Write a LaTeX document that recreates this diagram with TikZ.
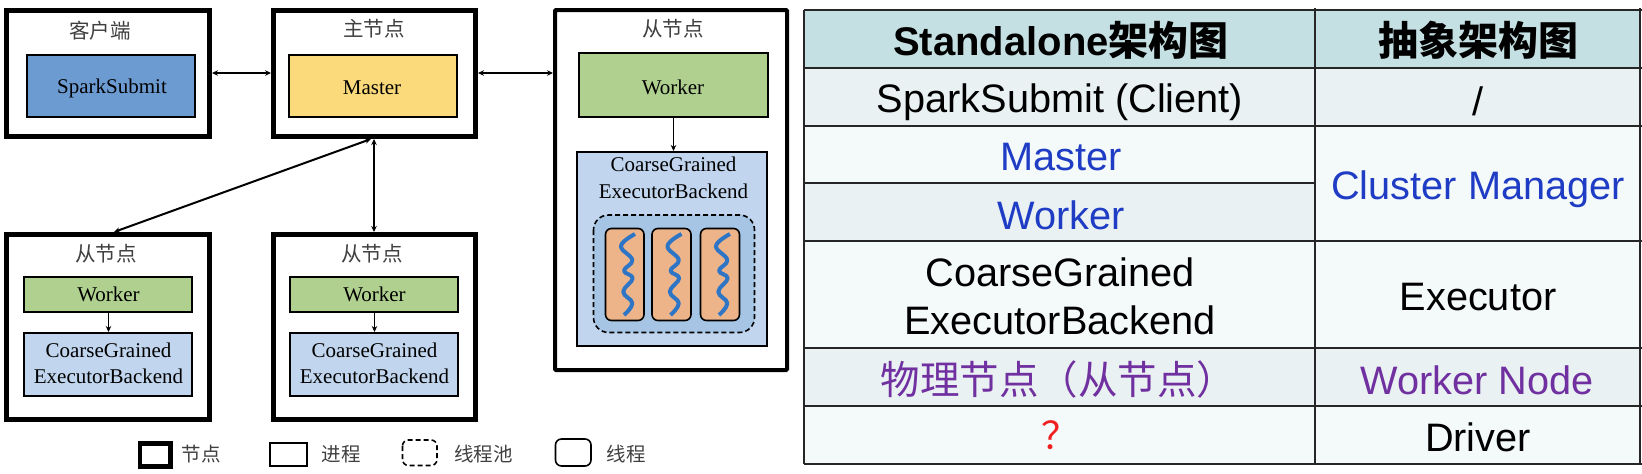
\documentclass[tikz,border=0pt]{standalone}
\usepackage{fontspec}
\setmainfont{Liberation Serif}
\newfontfamily\tabfont{Liberation Sans}
\newfontfamily\cjk{Noto Sans CJK SC}
\usetikzlibrary{arrows.meta}
\definecolor{headc}{HTML}{C5E0E3}
\definecolor{rowa}{HTML}{E9F1F3}
\definecolor{rowb}{HTML}{F4F9FA}
\definecolor{bluet}{HTML}{1F3CC4}
\definecolor{purt}{HTML}{7030A0}
\definecolor{redt}{HTML}{F02020}
\definecolor{sparkc}{HTML}{6C9BD2}
\definecolor{masterc}{HTML}{FADA7A}
\definecolor{workerc}{HTML}{B0D090}
\definecolor{cgc}{HTML}{C1D6EE}
\definecolor{poolc}{HTML}{A6C5E4}
\definecolor{threadc}{HTML}{EDB48A}
\definecolor{wavec}{HTML}{2F75C5}
\tikzset{
  x=1pt,y=-1pt,
  nodebox/.style={draw=black,line width=4.8pt,fill=white},
  procbox/.style={draw=black,line width=2.4pt},
  poolbox/.style={draw=black,line width=1.6pt,dash pattern=on 5pt off 3pt,rounded corners=15pt},
  threadbox/.style={draw=black,line width=1.6pt,rounded corners=6pt,fill=threadc},
  wave/.style={draw=wavec,line width=4pt,line join=round},
  lbl/.style={font=\fontsize{21}{21}\selectfont,inner sep=0pt,anchor=center},
  zh/.style={font=\cjk\fontsize{19.5}{20}\selectfont,text=black!75,inner sep=0pt,anchor=center},
  zht/.style={font=\cjk\fontsize{20.5}{21}\selectfont,text=black!75,inner sep=0pt,anchor=center},
  link/.style={draw=black,line width=1.3pt,{Stealth[length=6pt,width=5.5pt]}-{Stealth[length=6pt,width=5.5pt]}},
  linkb/.style={draw=black,line width=2pt,{Stealth[length=6pt,width=5.5pt]}-{Stealth[length=6pt,width=5.5pt]}},
  single/.style={draw=black,line width=1.8pt,-{Stealth[length=6pt,width=5.5pt]}},
  cell/.style={draw=black!85,line width=1.2pt},
  tt/.style={font=\tabfont\fontsize{39.7}{40}\selectfont,inner sep=0pt,anchor=center},
  th/.style={font=\tabfont\bfseries\fontsize{40}{40}\selectfont,inner sep=0pt,anchor=center},
}
\begin{document}
\begin{tikzpicture}
\useasboundingbox (0,0) rectangle (1642,474);
% outer boxes
\draw[nodebox] (6.4,10.4) rectangle (209.6,136.6);
\draw[nodebox] (273.4,10.4) rectangle (475.6,136.6);
\draw[nodebox,line width=4pt,rounded corners=1pt] (555,10) rectangle (787,370);
\draw[nodebox] (6.4,234.4) rectangle (209.6,419.6);
\draw[nodebox] (273.4,234.4) rectangle (475.6,419.6);
% named ends on the box edges
\coordinate (cR) at (212,73);
\coordinate (mL) at (271,73);
\coordinate (mR) at (478,73);
\coordinate (sL) at (553,73);
\coordinate (mB) at (374,139);
\coordinate (mB2) at (371,139);
\coordinate (aT) at (114,232);
\coordinate (bT) at (374,232);
\draw[link] (cR) -- (mL);
\draw[link] (mR) -- (sL);
\draw[linkb] (mB) -- (bT);
\draw[linkb] (mB2) -- (aT);
% titles
\node[zht] at (100,31) {客户端};
\node[zht] at (374,29) {主节点};
\node[zht] at (673,29) {从节点};
\node[zht] at (106,254) {从节点};
\node[zht] at (372,254) {从节点};
% top inner
\draw[procbox,fill=sparkc] (27,55) rectangle (195,117);
\node[lbl] at (112,88) {SparkSubmit};
\draw[procbox,fill=masterc] (289,55) rectangle (457,117);
\node[lbl] at (372,88) {Master};
% right slave
\draw[procbox,fill=workerc] (579,53) rectangle (768,117);
\node[lbl] at (673,87) {Worker};
\draw[procbox,fill=cgc] (577,152) rectangle (767,346);
\coordinate (w0b) at (673.5,118); \coordinate (c0t) at (673.5,151);
\draw[single] (w0b) -- (c0t);
\node[lbl] at (673.5,164) {CoarseGrained};
\node[lbl] at (673.5,191) {ExecutorBackend};
\draw[poolbox,fill=poolc] (593.5,215) rectangle (754.5,332.5);
\draw[threadbox] (605.5,228.5) rectangle (644,320.5);
\draw[threadbox] (652,228.5) rectangle (691,320.5);
\draw[threadbox] (700.5,228.5) rectangle (739.5,320.5);
\foreach \dx in {0,46.5,95}{
  \draw[wave,xshift=\dx pt] plot[smooth,tension=0.7] coordinates {(635,234) (621,246) (632.3,260) (624,270.7) (632.7,278.3) (623.3,291.7) (632.3,303.3) (624,315)};
}
% lower slaves
\foreach \ox/\nm in {0/a,266/b}{
  \begin{scope}[xshift=\ox pt]
  \draw[procbox,fill=workerc] (24,277) rectangle (192,312);
  \node[lbl] at (108.5,294) {Worker};
  \draw[procbox,fill=cgc] (24,333) rectangle (192,396);
  \coordinate (wb\nm) at (108.5,313);
  \coordinate (ct\nm) at (108.5,332);
  \draw[single] (wb\nm) -- (ct\nm);
  \node[lbl] at (108.5,350) {CoarseGrained};
  \node[lbl] at (108.5,376) {ExecutorBackend};
  \end{scope}
}
% legend
\draw[nodebox] (140,443.5) rectangle (170.5,466.5);
\node[zh] at (201,454) {节点};
\draw[procbox] (270,443) rectangle (307,466);
\node[zh] at (341,454) {进程};
\draw[poolbox,rounded corners=6pt] (402.5,440) rectangle (437,465.5);
\node[zh] at (483.5,454) {线程池};
\draw[draw=black,line width=1.6pt,rounded corners=6pt] (555.5,439) rectangle (591,466);
\node[zh] at (626,454) {线程};
% table fills
\fill[headc] (804,10) rectangle (1640,68);
\fill[rowa] (804,68) rectangle (1640,126);
\fill[rowb] (804,126) rectangle (1640,183);
\fill[rowa] (804,183) rectangle (1315,241);
\fill[rowb] (1315,126) rectangle (1640,241);
\fill[rowb] (804,241) rectangle (1640,348);
\fill[rowa] (804,348) rectangle (1640,406);
\fill[rowb] (804,406) rectangle (1640,464);
% table lines
\foreach \yy in {10,68,126,241,348,406,464}{\draw[cell] (804,\yy) -- (1642,\yy);}
\draw[cell] (804,183) -- (1315,183);
\draw[cell] (804,10) -- (804,464);
\draw[cell] (1315,8) -- (1315,464);
\draw[cell] (1640,8) -- (1640,464);
% table text
\node[th] at (1061,40) {Standalone\cjk 架构图};
\node[th] at (1478,40) {\cjk 抽象架构图};
\node[tt] at (1060,102) {SparkSubmit (Client)};
\node[tt] at (1478,101) {/};
\node[tt,text=bluet] at (1061,157) {Master};
\node[tt,text=bluet] at (1061,215) {Worker};
\node[tt,text=bluet] at (1478,189) {Cluster Manager};
\node[tt] at (1060,272) {CoarseGrained};
\node[tt] at (1060,320) {ExecutorBackend};
\node[tt] at (1478,297) {Executor};
\node[tt,text=purt,font=\cjk\fontsize{39.5}{40}\selectfont] at (1058.5,379) {物理节点（从节点）};
\node[tt,text=purt] at (1477,380) {Worker Node};
\node[tt,text=redt,font=\cjk\fontsize{38}{39}\selectfont] at (1060,435) {？};
\node[tt] at (1478,437) {Driver};
\end{tikzpicture}
\end{document}
